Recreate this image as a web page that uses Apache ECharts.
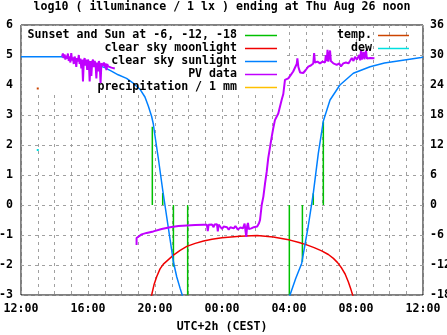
<!DOCTYPE html>
<html><head><meta charset="utf-8">
<script src="https://cdn.jsdelivr.net/npm/echarts@6/dist/echarts.min.js"></script>
<style>html,body{margin:0;padding:0;background:#fff}#c{width:447px;height:335px}</style>
</head><body><div id="c"></div>
<script>
const FONT = '"DejaVu Sans Mono", "Liberation Mono", monospace';
const FS = 11.6;
const titleText = 'log10 ( illuminance / 1 lx ) ending at Thu Aug 26 noon';
const xAxisName = 'UTC+2h (CEST)';

// x in hours since 00:00 of the first day (12 = 12:00, 36 = next day 12:00)
const xMin = 12, xMax = 36, xLabelStep = 4;
const leftMin = -3, leftMax = 6;
const rightMin = -18, rightMax = 36, rightStep = 6;

// legend entries
const legendCol1 = ['Sunset and Sun at -6, -12, -18', 'clear sky moonlight', 'clear sky sunlight', 'PV data', 'precipitation / 1 mm'];
const legendCol1Colors = ['#00c000', '#f00000', '#0080ff', '#c000ff', '#ffc000'];
const legendCol2 = ['temp.', 'dew'];
const legendCol2Colors = ['#cc4400', '#00e0e0'];

// Sun events: vertical segments from 0 to the given value
const sunTimes = [19.84, 20.46, 21.10, 21.95, 28.02, 28.80, 29.45, 30.05];
const sunTops  = [2.61, 0.40, -2.06, -3.0, -3.0, -1.89, 0.39, 2.78];

// clear sky sunlight (log10 lx)
const sunlight = [
  [12, 4.94], [14.4, 4.94], [14.5, 4.9], [15.5, 4.82], [16.5, 4.68], [17.0, 4.58],
  [17.4, 4.46], [17.8, 4.34], [18.3, 4.22], [18.7, 4.06], [19.1, 3.86], [19.4, 3.6],
  [19.6, 3.3], [19.8, 2.95], [19.9, 2.7], [20.0, 2.3], [20.2, 1.55], [20.46, 0.5],
  [20.7, -0.4], [20.9, -1.15], [21.1, -1.9], [21.3, -2.4], [21.5, -2.78], [21.68, -3.1],
  null,
  [28.0, -3.1], [28.06, -3.0], [28.4, -2.45], [28.76, -1.94], [29.15, -0.7], [29.45, 0.39],
  [29.75, 1.72], [30.05, 2.8], [30.45, 3.5], [31.04, 4.0], [31.84, 4.39], [32.84, 4.61],
  [33.7, 4.73], [34.6, 4.81], [35.9, 4.92], [36, 4.93]
];

// clear sky moonlight
const moonlight = [
  [19.75, -3.1], [19.8, -3.0], [19.95, -2.64], [20.1, -2.39], [20.3, -2.13], [20.5, -1.97],
  [20.8, -1.82], [21.1, -1.67], [21.5, -1.51], [21.9, -1.38], [22.4, -1.28], [22.9, -1.2],
  [23.4, -1.14], [24.0, -1.09], [25.07, -1.04], [26.1, -1.02], [27.06, -1.07],
  [28.06, -1.17], [28.6, -1.25], [29.06, -1.33], [29.5, -1.42], [29.95, -1.53], [30.35, -1.65],
  [30.65, -1.78], [30.9, -1.92], [31.15, -2.11], [31.35, -2.3], [31.54, -2.56], [31.7, -2.82],
  [31.8, -3.0], [31.85, -3.1]
];

// PV data
const pvData = [
  [14.45, 4.95], [14.5, 5.05], [14.55, 4.9], [14.6, 5.02], [14.65, 4.85], [14.7, 4.98],
  [14.75, 4.88], [14.8, 5.05], [14.85, 4.8], [14.9, 4.95], [14.95, 4.75], [15.0, 5.06],
  [15.05, 4.82], [15.1, 4.92], [15.15, 4.7], [15.2, 4.95], [15.25, 4.85], [15.3, 4.6],
  [15.35, 4.9], [15.4, 4.78], [15.45, 5.0], [15.5, 4.7], [15.55, 4.88], [15.6, 4.55],
  [15.65, 4.85], [15.7, 4.12], [15.75, 4.8], [15.8, 4.9], [15.85, 4.65], [15.9, 4.85],
  [15.95, 4.5], [16.0, 4.85], [16.05, 4.75], [16.1, 4.12], [16.15, 4.8], [16.2, 4.3],
  [16.25, 4.78], [16.3, 4.85], [16.35, 4.6], [16.4, 4.8], [16.45, 4.7], [16.5, 4.22],
  [16.55, 4.75], [16.6, 4.45], [16.65, 4.8], [16.7, 4.7], [16.75, 4.05], [16.8, 4.72],
  [16.85, 4.78], [16.9, 4.65], [16.95, 4.75], [17.0, 4.6], [17.05, 4.72], [17.1, 4.5],
  [17.15, 4.7], [17.2, 4.62], [17.3, 4.68], [17.4, 4.58], [17.5, 4.6], [17.6, 4.55],
  null,
  [18.9, -1.33], [18.9, -1.1], [19.0, -1.05], [19.2, -0.98], [19.5, -0.93], [19.9, -0.88],
  [20.4, -0.8], [20.9, -0.74], [21.4, -0.7], [21.9, -0.68], [22.4, -0.67], [22.9, -0.66],
  [23.1, -0.66], [23.15, -0.87], [23.2, -0.66], [23.4, -0.65], [23.5, -0.74], [23.55, -0.65],
  [23.7, -0.64], [23.75, -0.88], [23.8, -0.65], [23.9, -0.64], [24.0, -0.8], [24.1, -0.72],
  [24.3, -0.74], [24.4, -0.82], [24.5, -0.74], [24.7, -0.78], [24.8, -0.7], [24.95, -0.82],
  [25.1, -0.75], [25.25, -0.78], [25.35, -0.62], [25.4, -0.85], [25.45, -1.06], [25.5, -0.7],
  [25.55, -0.6], [25.6, -0.8], [25.75, -0.78], [25.9, -0.74], [26.1, -0.72], [26.2, -0.62],
  [26.27, -0.5], [26.37, 0.0], [26.47, 0.28], [26.57, 0.72], [26.67, 1.11], [26.76, 1.56],
  [26.87, 1.94], [26.97, 2.28], [27.06, 2.56], [27.16, 2.83], [27.36, 3.05], [27.56, 3.5],
  [27.66, 3.7], [27.76, 4.17], [27.96, 4.22], [28.1, 4.33], [28.25, 4.45], [28.36, 4.5],
  [28.46, 4.7], [28.5, 4.89], [28.56, 4.6], [28.66, 4.42], [28.75, 4.45], [28.85, 4.4],
  [29.0, 4.5], [29.15, 4.61], [29.3, 4.65], [29.45, 4.72], [29.5, 5.06], [29.55, 4.75],
  [29.7, 4.78], [29.85, 4.72], [30.0, 4.78], [30.15, 4.75], [30.2, 5.0], [30.25, 4.8],
  [30.3, 5.17], [30.35, 4.78], [30.45, 5.15], [30.5, 4.8], [30.65, 4.72], [30.85, 4.67],
  [31.0, 4.72], [31.1, 4.62], [31.24, 4.72], [31.4, 4.75], [31.55, 4.72], [31.64, 4.8],
  [31.75, 4.9], [31.85, 4.8], [31.94, 4.94], [32.05, 4.85], [32.2, 5.0], [32.25, 4.82],
  [32.3, 5.17], [32.35, 4.85], [32.45, 5.1], [32.5, 4.86], [32.6, 5.15], [32.65, 4.88],
  [32.75, 4.82], [32.85, 4.9], [32.95, 4.85], [33.1, 4.89]
];

// temperature and dew point (right axis, deg C)
const tempData = [[13.0, 23.3]];
const dewData = [[13.0, 11.0]];

function hh(v) {
  const h = ((v % 24) + 24) % 24;
  return (h < 10 ? '0' : '') + h + ':00';
}

const chart = echarts.init(document.getElementById('c'), null, {renderer: 'canvas'});

const GL = 21, GT = 25, GW = 402, GH = 270;

const series = [];
sunTimes.forEach((t, i) => {
  series.push({
    type: 'line', yAxisIndex: 0, data: [[t, 0], [t, sunTops[i]]],
    showSymbol: false, lineStyle: {color: legendCol1Colors[0], width: 1.5}, z: 3, silent: true
  });
});
series.push({type: 'line', yAxisIndex: 0, data: moonlight, showSymbol: false, connectNulls: false,
  lineStyle: {color: legendCol1Colors[1], width: 1.5}, z: 3, silent: true});
series.push({type: 'line', yAxisIndex: 0, data: sunlight, showSymbol: false, connectNulls: false,
  lineStyle: {color: legendCol1Colors[2], width: 1.5}, z: 3, silent: true});
series.push({type: 'line', yAxisIndex: 0, data: pvData, showSymbol: false, connectNulls: false,
  lineStyle: {color: legendCol1Colors[3], width: 2}, z: 4, silent: true});
series.push({type: 'line', yAxisIndex: 1, data: tempData, showSymbol: true, symbol: 'rect', symbolSize: 2,
  itemStyle: {color: legendCol2Colors[0]}, lineStyle: {color: legendCol2Colors[0]}, z: 4, silent: true});
series.push({type: 'line', yAxisIndex: 1, data: dewData, showSymbol: true, symbol: 'rect', symbolSize: 2,
  itemStyle: {color: legendCol2Colors[1]}, lineStyle: {color: legendCol2Colors[1]}, z: 4, silent: true});

const graphics = [];
// opaque key box
graphics.push({type: 'rect', shape: {x: GL + 1, y: GT + 1, width: 262, height: 67}, style: {fill: '#fff'}, z: 1, silent: true});
graphics.push({type: 'text', x: 222, y: 7, z: 10, style: {text: titleText, font: 'bold ' + FS + 'px ' + FONT, fill: '#000', textAlign: 'center', textVerticalAlign: 'middle'}});
graphics.push({type: 'text', x: 222, y: 327, z: 10, style: {text: xAxisName, font: 'bold ' + FS + 'px ' + FONT, fill: '#000', textAlign: 'center', textVerticalAlign: 'middle'}});
legendCol1.forEach((name, i) => {
  const y = 35 + i * 13;
  graphics.push({type: 'text', x: 237, y: y, z: 10, style: {text: name, font: 'bold ' + FS + 'px ' + FONT, fill: '#000', textAlign: 'right', textVerticalAlign: 'middle'}});
  graphics.push({type: 'line', z: 10, shape: {x1: 245, y1: y + 0.5, x2: 277, y2: y + 0.5}, style: {stroke: legendCol1Colors[i], lineWidth: 1.5}});
});
legendCol2.forEach((name, i) => {
  const y = 35 + i * 13;
  graphics.push({type: 'text', x: 372, y: y, z: 10, style: {text: name, font: 'bold ' + FS + 'px ' + FONT, fill: '#000', textAlign: 'right', textVerticalAlign: 'middle'}});
  graphics.push({type: 'line', z: 10, shape: {x1: 378, y1: y + 0.5, x2: 409, y2: y + 0.5}, style: {stroke: legendCol2Colors[i], lineWidth: 1.5}});
});

const labelStyle = {color: '#000', fontFamily: FONT, fontWeight: 'bold', fontSize: FS};
const dash = {color: '#a0a0a0', width: 1, type: [3, 4]};

chart.setOption({
  animation: false,
  backgroundColor: '#fff',
  grid: {left: GL, top: GT, width: GW, height: GH, show: true, borderColor: '#000', borderWidth: 1,
         backgroundColor: 'transparent', containLabel: false, outerBoundsMode: 'none'},
  xAxis: {
    type: 'value', min: xMin, max: xMax, interval: 1,
    axisLine: {show: false}, axisTick: {show: false},
    splitLine: {show: true, lineStyle: dash},
    axisLabel: Object.assign({margin: 8, formatter: v => ((v - xMin) % xLabelStep === 0 ? hh(v) : '')}, labelStyle)
  },
  yAxis: [
    {type: 'value', min: leftMin, max: leftMax, interval: 1, position: 'left',
     axisLine: {show: false}, axisTick: {show: false},
     splitLine: {show: true, lineStyle: dash},
     axisLabel: Object.assign({margin: 8}, labelStyle)},
    {type: 'value', min: rightMin, max: rightMax, interval: rightStep, position: 'right',
     axisLine: {show: false}, axisTick: {show: false}, splitLine: {show: false},
     axisLabel: Object.assign({margin: 7}, labelStyle)}
  ],
  series: series,
  graphic: graphics
});
</script>
</body></html>
